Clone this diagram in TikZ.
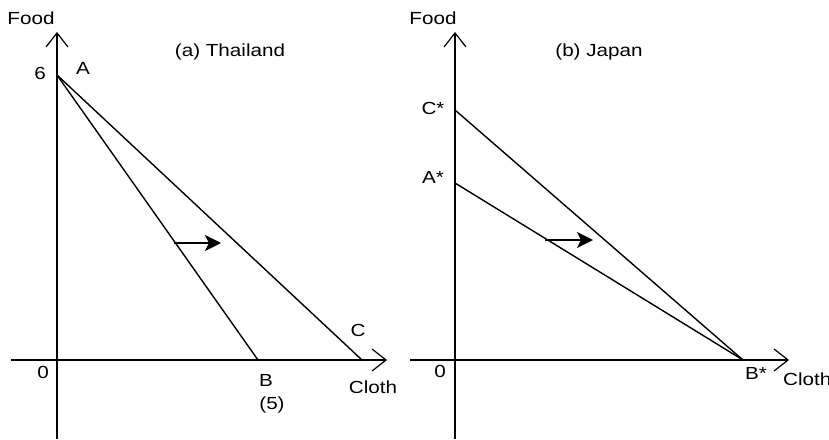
\documentclass[tikz,border=0pt]{standalone}
\usepackage{fontspec}
\setmainfont{Liberation Sans}[FakeStretch=1.18]
\usetikzlibrary{arrows.meta}
\begin{document}
\begin{tikzpicture}[x=1pt,y=-1pt,
  lbl/.style={inner sep=0pt,font=\fontsize{17.5}{17.5}\selectfont},
  axis/.style={line width=1.2pt,-{Straight Barb[length=14pt,width=22pt,line width=1.2pt]}},
  curve/.style={line width=1.4pt},
  shift arrow/.style={line width=1.4pt,-{Stealth[length=16pt,width=16pt,inset=4pt]}}]
\useasboundingbox (0,0) rectangle (829,439);
% ---------- (a) Thailand ----------
\coordinate (aYb) at (57,439);
\coordinate (aYt) at (57,32);
\coordinate (aXl) at (11,360);
\coordinate (aXr) at (387,360);
\coordinate (A) at (57,75);
\coordinate (B) at (258,360);
\coordinate (C) at (362,360);
\draw[axis] (aYb) -- (aYt);
\draw[axis] (aXl) -- (aXr);
\draw[curve] (A) -- (B);
\draw[curve] (A) -- (C);
\coordinate (a1) at (174,243);
\coordinate (a2) at (221,243);
\draw[shift arrow] (a1) -- (a2);
\node[lbl] (foodA) at (31,18) {Food};
\node[lbl] (titleA) at (230,52) {(a) Thailand};
\node[lbl] (six) at (40,73) {6};
\node[lbl] (labA) at (83,68) {A};
\node[lbl] (zeroA) at (43,372) {0};
\node[lbl] (labB) at (266,380) {B};
\node[lbl] (five) at (272,405) {(5)};
\node[lbl] (labC) at (358,330) {C};
\node[lbl] (clothA) at (373,387) {Cloth};
% ---------- (b) Japan ----------
\coordinate (bYb) at (455,439);
\coordinate (bYt) at (455,32);
\coordinate (bXl) at (410,360);
\coordinate (bXr) at (789,360);
\coordinate (Cs) at (455,110);
\coordinate (As) at (455,183);
\coordinate (Bs) at (743,360);
\draw[axis] (bYb) -- (bYt);
\draw[axis] (bXl) -- (bXr);
\draw[curve] (Cs) -- (Bs);
\draw[curve] (As) -- (Bs);
\coordinate (b1) at (545,240);
\coordinate (b2) at (593,240);
\draw[shift arrow] (b1) -- (b2);
\node[lbl] (foodB) at (433,18) {Food};
\node[lbl] (titleB) at (599,52) {(b) Japan};
\node[lbl] (labCs) at (433,108) {C*};
\node[lbl] (labAs) at (433,177) {A*};
\node[lbl] (zeroB) at (440,371) {0};
\node[lbl] (labBs) at (756,373) {B*};
\node[lbl,anchor=west] (clothB) at (783,379) {Cloth};
\end{tikzpicture}
\end{document}
